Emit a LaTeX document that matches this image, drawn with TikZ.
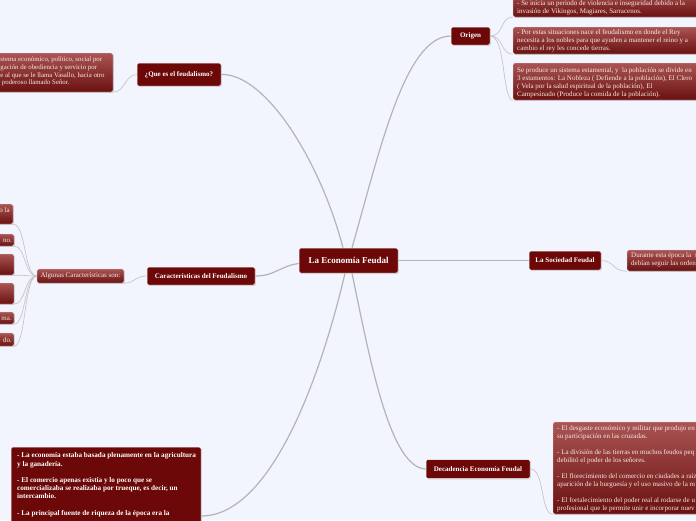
\documentclass[tikz,border=0pt]{standalone}
\usepackage{fontspec}
\setmainfont{Liberation Serif}
\usetikzlibrary{shadows}
\definecolor{bgc}{RGB}{242,245,254}
\definecolor{dkred}{RGB}{108,8,8}
\definecolor{leaftop}{RGB}{170,84,84}
\definecolor{leafbot}{RGB}{106,16,16}
\definecolor{cream}{RGB}{246,234,226}
\definecolor{branchgray}{RGB}{180,180,180}
\definecolor{twiggray}{RGB}{198,198,198}
\pgfdeclarelayer{back}
\pgfsetlayers{back,main}
\begin{document}
\begin{tikzpicture}[x=1pt,y=-1pt,
 topic/.style={draw=white, line width=0.5pt, fill=dkred, rounded corners=1.5pt, text=white,
   font=\fontsize{7}{8}\selectfont\bfseries, inner sep=0pt,
   drop shadow={shadow xshift=0.8pt, shadow yshift=-0.8pt, opacity=0.35}},
 leaf/.style={draw=white!80!leaftop, line width=0.4pt, top color=leaftop, bottom color=leafbot,
   rounded corners=1.5pt, inner sep=0pt,
   drop shadow={shadow xshift=0.8pt, shadow yshift=-0.8pt, opacity=0.3}},
 leaftext/.style={text=cream, font=\fontsize{7}{7.9}\selectfont, align=left, inner sep=0pt, anchor=north west},
 frag/.style={text=cream, font=\fontsize{7}{7.9}\selectfont, inner sep=0pt, anchor=base east},
 branch/.style={draw=branchgray, line width=1.2pt},
 twig/.style={draw=twiggray, line width=0.7pt},
]
\useasboundingbox (0,0) rectangle (696,520);
\begin{pgfonlayer}{back}
\fill[bgc] (0,0) rectangle (696,520);
\end{pgfonlayer}
\clip (0,0) rectangle (696,520);

% main topics
\node[topic, font=\fontsize{9}{10}\selectfont\bfseries, minimum width=99pt, minimum height=25pt] (center) at (348.5,260.5) {La Economía Feudal};
\node[topic, minimum width=84pt, minimum height=23pt] (que) at (179,74.5) {¿Que es el feudalismo?};
\node[topic, minimum width=39pt, minimum height=18pt] (origen) at (470.5,36) {Origen};
\node[topic, minimum width=72pt, minimum height=19pt] (soc) at (565,260.5) {La Sociedad Feudal};
\node[topic, minimum width=108pt, minimum height=18pt] (car) at (201,276) {Características del Feudalismo};
\node[topic, minimum width=104pt, minimum height=19pt] (dec) at (478,469) {Decadencia Economía Feudal};

% big bottom-left box
\node[topic, minimum width=190pt, minimum height=113pt] (big) at (106,503.5) {};
\node[text=white, font=\fontsize{7.2}{8.2}\selectfont\bfseries, align=left, inner sep=0pt, anchor=north west] (bigt) at (17,452.6)
 {- La economía estaba basada plenamente en la agricultura\\y la ganadería.\\[8.2pt]- El comercio apenas existía y lo poco que se\\comercializaba se realizaba por trueque, es decir, un\\intercambio.\\[8.2pt]- La principal fuente de riqueza de la época era la};

% que child
\node[leaf, minimum width=133pt, minimum height=39pt] (qc) at (46.5,72.5) {};
\node[leaftext, font=\fontsize{6.8}{7.8}\selectfont] (qct) at (0.3,56.5) {stema económico, político, social por\\gación de obediencia y servicio por\\e al que se le llama Vasallo, hacia otro\\\hspace*{1.5pt}poderoso llamado Señor.};

% origen children
\node[leaf, minimum width=207pt, minimum height=27pt] (o1) at (616.5,3.5) {};
\node[leaftext, font=\fontsize{7}{8}\selectfont] (o1t) at (517,0.8) {- Se inicia un periodo de violencia e inseguridad debido a la\\invasión de Vikingos, Magiares, Sarracenos.};
\node[leaf, minimum width=207pt, minimum height=27pt] (o2) at (616.5,40.5) {};
\node[leaftext, font=\fontsize{7}{8}\selectfont] (o2t) at (517,29.8) {- Por estas situaciones nace el feudalismo en donde el Rey\\necesita a los nobles para que ayuden a mantener el reino y a\\cambio el rey les concede tierras.};
\node[leaf, minimum width=207pt, minimum height=37pt] (o3) at (616.5,81.5) {};
\node[leaftext, font=\fontsize{7}{7.8}\selectfont] (o3t) at (517,67.8) {Se produce un sistema estamental, y \ la población se divide en\\3 estamentos: La Nobleza ( Defiende a la población), El Clero\\( Vela por la salud espiritual de la población), El\\Campesinado (Produce la comida de la población).};

% sociedad child
\node[leaf, minimum width=93pt, minimum height=21pt] (sc) at (673.5,260.5) {};
\node[leaftext, font=\fontsize{7}{7.3}\selectfont] (sct) at (631,252.8) {Durante esta época la \ s\\debían seguir las ordene};

% algunas
\node[leaf, minimum width=87pt, minimum height=14pt, text=cream, font=\fontsize{7}{7.5}\selectfont] (alg) at (80.5,276) {Algunas Características son:};
\node[leaf, minimum width=33pt, minimum height=20pt] (a1) at (-3.5,214) {};
\node[leaf, minimum width=34pt, minimum height=12pt] (a2) at (-3,240) {};
\node[leaf, minimum width=34pt, minimum height=21pt] (a3) at (-3,264.5) {};
\node[leaf, minimum width=34pt, minimum height=21pt] (a4) at (-3,293.5) {};
\node[leaf, minimum width=34pt, minimum height=12pt] (a5) at (-3,318) {};
\node[leaf, minimum width=34pt, minimum height=13pt] (a6) at (-3,339.5) {};
\node[frag] (a1t) at (10,212.5) {o la};
\node[frag] (a2t) at (12,242.5) {no.};
\node[frag] (a5t) at (12,320.5) {ma.};
\node[frag] (a6t) at (12,342) {do.};

% decadencia child
\node[leaf, minimum width=167pt, minimum height=92pt] (dc) at (636.5,468) {};
\node[leaftext, font=\fontsize{7}{8}\selectfont] (dct) at (557,425.8) {- El desgaste económico y militar que produjo en\\su participación en las cruzadas.\\[8pt]- La división de las tierras en muchos feudos peq\\debilitó el poder de los señores.\\[8pt]- El florecimiento del comercio en ciudades a raíz\\aparición de la burguesía y el uso masivo de la m\\[8pt]- El fortalecimiento del poder real al rodarse de u\\profesional que le permite unir e incorporar nuev};

% connectors
\begin{pgfonlayer}{back}
\draw[branch] ([xshift=-5.5pt]center.north) .. controls (320,160) and (265,73) .. (que.east);
\draw[branch] ([xshift=3.5pt]center.north) .. controls (380,150) and (405,36) .. (origen.west);
\draw[branch] (center.east) -- (soc.west);
\draw[branch] ([yshift=-3pt]center.west) .. controls (280,266) and (275,276) .. (car.east);
\draw[branch] ([xshift=3.5pt]center.south) .. controls (370,360) and (390,468) .. (dec.west);
\draw[branch] ([xshift=-3.5pt]center.south) .. controls (320,380) and (270,516) .. ([yshift=-12.5pt]big.east);

\draw[twig] (que.west) .. controls (125,74.5) and (125,92) .. (qc.south east);
\draw[twig] (origen.east) .. controls (504,36) and (500,17) .. (o1.south west);
\draw[twig] (origen.east) .. controls (504,36) and (500,54) .. (o2.south west);
\draw[twig] (origen.east) .. controls (506,36) and (502,100) .. (o3.south west);
\draw[twig] (soc.east) .. controls (614,260.5) and (612,271) .. (sc.south west);
\draw[twig] (car.west) .. controls (135,276) and (135,283) .. (alg.south east);
\draw[twig] (alg.west) .. controls (24,276) and (26,224) .. (a1.south east);
\draw[twig] (alg.west) .. controls (24,276) and (26,246) .. (a2.south east);
\draw[twig] (alg.west) .. controls (24,276) and (26,275) .. (a3.south east);
\draw[twig] (alg.west) .. controls (24,276) and (26,304) .. (a4.south east);
\draw[twig] (alg.west) .. controls (24,276) and (26,324) .. (a5.south east);
\draw[twig] (alg.west) .. controls (24,276) and (26,346) .. (a6.south east);
\draw[twig] (dec.east) .. controls (545,469) and (540,514) .. (dc.south west);
\end{pgfonlayer}
\end{tikzpicture}
\end{document}
